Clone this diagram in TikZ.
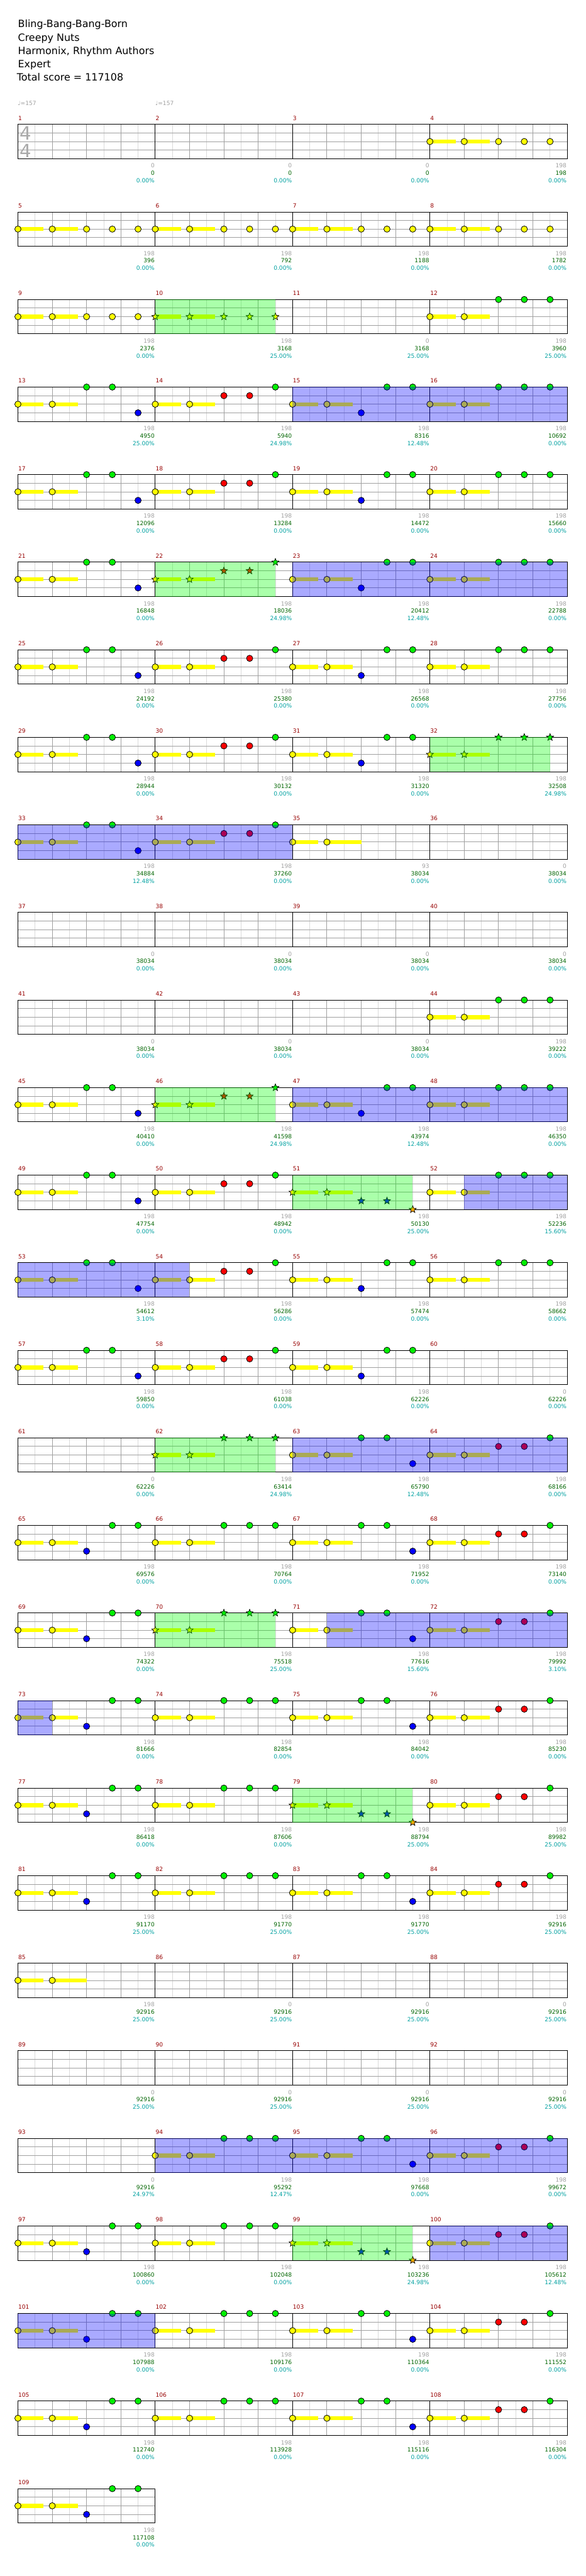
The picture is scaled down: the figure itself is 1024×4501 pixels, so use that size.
\documentclass[tikz,border=0pt]{standalone}
\usepackage{fontspec}
\setmainfont{DejaVu Sans}
\usetikzlibrary{shapes.geometric}
\definecolor{gridd}{RGB}{160,160,160}
\definecolor{gridl}{RGB}{218,218,218}
\definecolor{mnum}{RGB}{150,0,0}
\definecolor{lgrey}{RGB}{160,160,160}
\definecolor{lgreen}{RGB}{0,100,0}
\definecolor{lcyan}{RGB}{0,160,160}
\definecolor{nyel}{RGB}{255,255,0}
\definecolor{ngrn}{RGB}{0,240,0}
\definecolor{nred}{RGB}{255,0,0}
\definecolor{nblu}{RGB}{0,0,255}
\definecolor{nora}{RGB}{255,170,0}
\definecolor{tsig}{RGB}{170,170,170}
\definecolor{ovg}{RGB}{0,255,0}
\definecolor{ovb}{RGB}{0,0,255}
\tikzset{
  notec/.style={draw=black,line width=0.9pt},
  starnote/.style={star,star points=5,star point ratio=2.3,draw=black,line width=0.8pt,inner sep=0pt,minimum size=13pt},
  lab/.style={anchor=base east,inner sep=0pt,font=\fontsize{10}{12}\selectfont},
  mnumber/.style={anchor=base west,inner sep=0pt,text=mnum,font=\fontsize{10}{12}\selectfont},
  titletext/.style={anchor=base west,inner sep=0pt,font=\fontsize{17.5}{20}\selectfont},
}
\newcommand\Meas[2]{%
  \pgfmathtruncatemacro\MeR{int((#1-1)/4)}%
  \pgfmathtruncatemacro\MeC{#1-1-4*\MeR}%
  \pgfmathsetmacro\MeX{31.3+240*\MeC}%
  \pgfmathsetmacro\MeY{217.3+153*\MeR}%
  \begin{scope}[shift={(\MeX,\MeY)}]#2\end{scope}}
\newcommand\Nc[3]{\filldraw[notec,fill=#1] ({#2*30},{#3*15}) circle[radius=5.5];}
\newcommand\Ns[3]{\node[starnote,fill=#1] at ({#2*30},{#3*15}) {};}
\let\Nt\Nc
\newcommand\Sus[2]{\fill[nyel] ({#1*30},26.5) rectangle ++({#2*30},7);}
\newcommand\PBase{\Sus{0}{1.5}\Sus{2}{1.5}\Nt{nyel}{0}{2}\Nt{nyel}{2}{2}}
\newcommand\PY{\PBase\Nt{nyel}{4}{2}\Nt{nyel}{5.5}{2}\Nt{nyel}{7}{2}}
\newcommand\PA{\PBase\Nt{ngrn}{4}{0}\Nt{ngrn}{5.5}{0}\Nt{nblu}{7}{3}}
\newcommand\PB{\PBase\Nt{nred}{4}{1}\Nt{nred}{5.5}{1}\Nt{ngrn}{7}{0}}
\newcommand\PC{\PBase\Nt{nblu}{4}{3}\Nt{ngrn}{5.5}{0}\Nt{ngrn}{7}{0}}
\newcommand\PD{\PBase\Nt{ngrn}{4}{0}\Nt{ngrn}{5.5}{0}\Nt{ngrn}{7}{0}}
\newcommand\PF{\PBase\Nt{nblu}{4}{3}\Nt{nblu}{5.5}{3}\Nt{nora}{7}{4}}
\newcommand\PE{\Sus{0}{1.5}\Sus{2}{2}\Nt{nyel}{0}{2}\Nt{nyel}{2}{2}}
\newcommand\GOv[3]{\Meas{#1}{\fill[ovg,opacity=0.333] ({#2*30},0) rectangle ({#3*30},60);}}
\newcommand\BOv[3]{\Meas{#1}{\fill[ovb,opacity=0.333] ({#2*30},0) rectangle ({#3*30},60);}}
\begin{document}
\begin{tikzpicture}[x=1pt,y=-1pt]
\useasboundingbox (0,0) rectangle (1024,4501);
% title
\node[titletext] (t1) at (31.3,48.3) {Bling-Bang-Bang-Born};
\node[titletext] (t2) at (31.3,71.7) {Creepy Nuts};
\node[titletext] (t3) at (31.3,95) {Harmonix, Rhythm Authors};
\node[titletext] (t4) at (31.3,118.3) {Expert};
\node[titletext] (t5) at (29.3,141.7) {Total score = 117108};
\node[anchor=base west,inner sep=0pt,text=lgrey,font=\fontsize{10}{12}\selectfont] (tp1) at (31,184.3) {♩=157};
\node[anchor=base west,inner sep=0pt,text=lgrey,font=\fontsize{10}{12}\selectfont] (tp2) at (271.3,184.3) {♩=157};
% grids
\foreach \r in {0,...,26} {
  \begin{scope}[shift={(31.3,217.3+153*\r)}]
    \draw[gridl,line width=1pt] foreach \i in {0,...,15} {(30+60*\i,0)--++(0,60)};
    \draw[gridd,line width=1pt] foreach \i in {1,...,15} {(60*\i,0)--++(0,60)};
    \draw[gridd,line width=1pt] (0,15)--(960,15) (0,30)--(960,30) (0,45)--(960,45);
    \draw[black,line width=1pt] (240,0)--(240,60) (480,0)--(480,60) (720,0)--(720,60);
    \draw[black,line width=1pt] (0,0) rectangle (960,60);
  \end{scope}}
\begin{scope}[shift={(31.3,217.3+153*27)}]
  \draw[gridl,line width=1pt] foreach \i in {0,...,3} {(30+60*\i,0)--++(0,60)};
  \draw[gridd,line width=1pt] foreach \i in {1,...,3} {(60*\i,0)--++(0,60)};
  \draw[gridd,line width=1pt] (0,15)--(240,15) (0,30)--(240,30) (0,45)--(240,45);
  \draw[black,line width=1pt] (0,0) rectangle (240,60);
\end{scope}
% time signature
\node[anchor=base west,inner sep=0pt,text=tsig,font=\fontsize{32}{32}\selectfont] (ts1) at (34.3,245) {4};
\node[anchor=base west,inner sep=0pt,text=tsig,font=\fontsize{32}{32}\selectfont] (ts2) at (34.3,275) {4};
% measure numbers
\foreach \m in {1,...,109} {\Meas{\m}{\node[mnumber] at (0.5,-7.3) {\m};}}
% notes
\foreach \m in {4,...,9} {\Meas{\m}{\PY}}
\Meas{10}{\let\Nt\Ns\PY}
\Meas{12}{\PD}
\Meas{13}{\PA}\Meas{14}{\PB}\Meas{15}{\PC}\Meas{16}{\PD}
\Meas{17}{\PA}\Meas{18}{\PB}\Meas{19}{\PC}\Meas{20}{\PD}
\Meas{21}{\PA}\Meas{22}{\let\Nt\Ns\PB}\Meas{23}{\PC}\Meas{24}{\PD}
\Meas{25}{\PA}\Meas{26}{\PB}\Meas{27}{\PC}\Meas{28}{\PD}
\Meas{29}{\PA}\Meas{30}{\PB}\Meas{31}{\PC}\Meas{32}{\let\Nt\Ns\PD}
\Meas{33}{\PA}\Meas{34}{\PB}
\Meas{35}{\PE}
\Meas{44}{\PD}
\Meas{45}{\PA}\Meas{46}{\let\Nt\Ns\PB}\Meas{47}{\PC}\Meas{48}{\PD}
\Meas{49}{\PA}\Meas{50}{\PB}
\Meas{51}{\let\Nt\Ns\PF}
\Meas{52}{\PD}
\Meas{53}{\PA}\Meas{54}{\PB}\Meas{55}{\PC}\Meas{56}{\PD}
\Meas{57}{\PA}\Meas{58}{\PB}\Meas{59}{\PC}
\Meas{62}{\let\Nt\Ns\PD}\Meas{63}{\PA}\Meas{64}{\PB}
\Meas{65}{\PC}\Meas{66}{\PD}\Meas{67}{\PA}\Meas{68}{\PB}
\Meas{69}{\PC}\Meas{70}{\let\Nt\Ns\PD}\Meas{71}{\PA}\Meas{72}{\PB}
\Meas{73}{\PC}\Meas{74}{\PD}\Meas{75}{\PA}\Meas{76}{\PB}
\Meas{77}{\PC}\Meas{78}{\PD}\Meas{79}{\let\Nt\Ns\PF}\Meas{80}{\PB}
\Meas{81}{\PC}\Meas{82}{\PD}\Meas{83}{\PA}\Meas{84}{\PB}
\Meas{85}{\PE}
\Meas{94}{\PD}\Meas{95}{\PA}\Meas{96}{\PB}
\Meas{97}{\PC}\Meas{98}{\PD}\Meas{99}{\let\Nt\Ns\PF}\Meas{100}{\PB}
\Meas{101}{\PC}\Meas{102}{\PD}\Meas{103}{\PA}\Meas{104}{\PB}
\Meas{105}{\PC}\Meas{106}{\PD}\Meas{107}{\PA}\Meas{108}{\PB}
\Meas{109}{\PC}
% overlays
\GOv{10}{0}{7}\GOv{22}{0}{7}\GOv{32}{0}{7}\GOv{46}{0}{7}\GOv{51}{0}{7}\GOv{62}{0}{7}
\GOv{70}{0}{7}\GOv{79}{0}{7}\GOv{99}{0}{7}
\BOv{15}{0}{8}\BOv{16}{0}{8}\BOv{23}{0}{8}\BOv{24}{0}{8}\BOv{33}{0}{8}\BOv{34}{0}{8}
\BOv{47}{0}{8}\BOv{48}{0}{8}\BOv{52}{2}{8}\BOv{53}{0}{8}\BOv{54}{0}{2}
\BOv{63}{0}{8}\BOv{64}{0}{8}
\BOv{71}{2}{8}\BOv{72}{0}{8}\BOv{73}{0}{2}
\BOv{94}{0}{8}\BOv{95}{0}{8}\BOv{96}{0}{8}
\BOv{100}{0}{8}\BOv{101}{0}{8}
% labels
\foreach \m/\a/\b/\c in {1/0/0/0.00,2/0/0/0.00,3/0/0/0.00,4/198/198/0.00,
5/198/396/0.00,6/198/792/0.00,7/198/1188/0.00,8/198/1782/0.00,
9/198/2376/0.00,10/198/3168/25.00,11/0/3168/25.00,12/198/3960/25.00,
13/198/4950/25.00,14/198/5940/24.98,15/198/8316/12.48,16/198/10692/0.00,
17/198/12096/0.00,18/198/13284/0.00,19/198/14472/0.00,20/198/15660/0.00,
21/198/16848/0.00,22/198/18036/24.98,23/198/20412/12.48,24/198/22788/0.00,
25/198/24192/0.00,26/198/25380/0.00,27/198/26568/0.00,28/198/27756/0.00,
29/198/28944/0.00,30/198/30132/0.00,31/198/31320/0.00,32/198/32508/24.98,
33/198/34884/12.48,34/198/37260/0.00,35/93/38034/0.00,36/0/38034/0.00,
37/0/38034/0.00,38/0/38034/0.00,39/0/38034/0.00,40/0/38034/0.00,
41/0/38034/0.00,42/0/38034/0.00,43/0/38034/0.00,44/198/39222/0.00,
45/198/40410/0.00,46/198/41598/24.98,47/198/43974/12.48,48/198/46350/0.00,
49/198/47754/0.00,50/198/48942/0.00,51/198/50130/25.00,52/198/52236/15.60,
53/198/54612/3.10,54/198/56286/0.00,55/198/57474/0.00,56/198/58662/0.00,
57/198/59850/0.00,58/198/61038/0.00,59/198/62226/0.00,60/0/62226/0.00,
61/0/62226/0.00,62/198/63414/24.98,63/198/65790/12.48,64/198/68166/0.00,
65/198/69576/0.00,66/198/70764/0.00,67/198/71952/0.00,68/198/73140/0.00,
69/198/74322/0.00,70/198/75518/25.00,71/198/77616/15.60,72/198/79992/3.10,
73/198/81666/0.00,74/198/82854/0.00,75/198/84042/0.00,76/198/85230/0.00,
77/198/86418/0.00,78/198/87606/0.00,79/198/88794/25.00,80/198/89982/25.00,
81/198/91170/25.00,82/198/91770/25.00,83/198/91770/25.00,84/198/92916/25.00,
85/198/92916/25.00,86/0/92916/25.00,87/0/92916/25.00,88/0/92916/25.00,
89/0/92916/25.00,90/0/92916/25.00,91/0/92916/25.00,92/0/92916/25.00,
93/0/92916/24.97,94/198/95292/12.47,95/198/97668/0.00,96/198/99672/0.00,
97/198/100860/0.00,98/198/102048/0.00,99/198/103236/24.98,100/198/105612/12.48,
101/198/107988/0.00,102/198/109176/0.00,103/198/110364/0.00,104/198/111552/0.00,
105/198/112740/0.00,106/198/113928/0.00,107/198/115116/0.00,108/198/116304/0.00,
109/198/117108/0.00} {
  \Meas{\m}{%
    \node[lab,text=lgrey] at (239,76) {\a};
    \node[lab,text=lgreen] at (239,89) {\b};
    \node[lab,text=lcyan] at (239,102) {\c\%};}}
\end{tikzpicture}
\end{document}
